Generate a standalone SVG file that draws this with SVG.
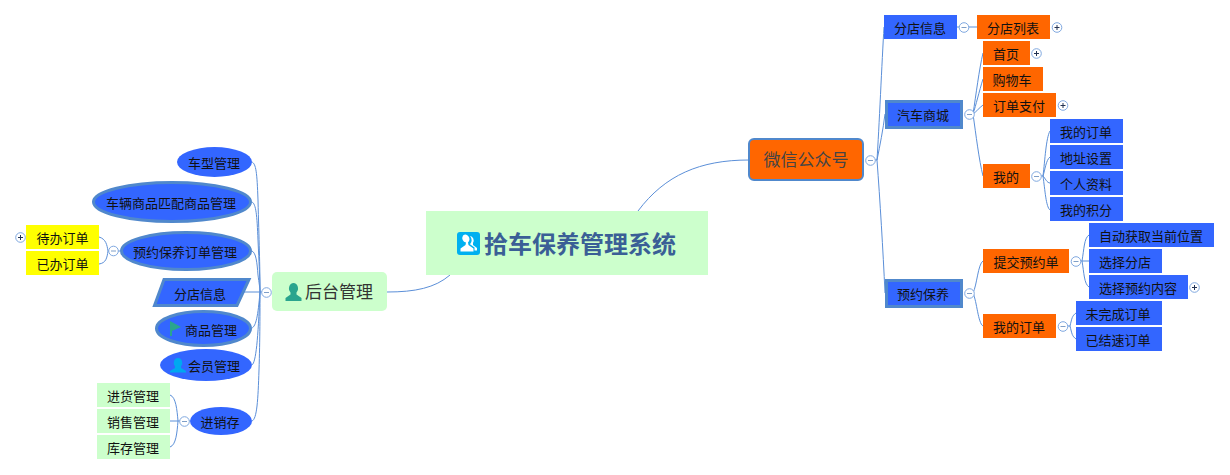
<svg xmlns="http://www.w3.org/2000/svg" width="1230" height="475" viewBox="0 0 1230 475">
<style>
text{font-family:"Noto Sans CJK SC","Liberation Sans",sans-serif;font-size:13px;fill:#111;text-anchor:middle}
.b{fill:#3366ff}.o{fill:#ff6600}.y{fill:#ffff00}.g{fill:#ccffcc}
.s{stroke:#5088cc;stroke-width:3}
.c{fill:none;stroke:#5b8fd8;stroke-width:1}
.t{fill:#fff;stroke:#7fa8e0;stroke-width:1}
.m{fill:none;stroke:#7f9fc8;stroke-width:1}
.p{fill:none;stroke:#223355;stroke-width:1}
</style>
<defs>
<g id="minus"><circle class="t" r="4.800"/><path class="m" d="M-2.500 0H2.500"/></g>
<g id="plus"><circle class="t" r="4.800"/><path class="p" d="M-2.500 0H2.500M0-2.500V2.500"/></g>
</defs>
<g id="connectors">
<path class="c" d="M638 211C665 175 700 160 749 160"/>
<path class="c" d="M387 292C415 292 435 288 450 275"/>
<path class="c" d="M252 162C256 164 257 172 258 200C259 240 260 265 260 292"/>
<path class="c" d="M252 202C256 204 257 215 258 240C259 262 260 280 260 292"/>
<path class="c" d="M252 251C256 253 257 262 258 275C259 283 260 288 260 292"/>
<path class="c" d="M238 292H262"/>
<path class="c" d="M252 328C256 326 258 316 260 292"/>
<path class="c" d="M252 365C256 362 258 340 260 292"/>
<path class="c" d="M252 421C257 419 258 400 259 370C260 340 260 310 260 292"/>
<path class="c" d="M99 237C106 239 107 245 108 251C107 258 106 263 99 264"/>
<path class="c" d="M108 251H120"/>
<path class="c" d="M170 395C176 397 177 410 178 421C177 433 176 445 170 447"/>
<path class="c" d="M170 421H190"/>
<path class="c" d="M875 160H877C879 130 882 60 884 27"/>
<path class="c" d="M877 160C880 145 883 130 885 114"/>
<path class="c" d="M877 160C880 200 883 250 885 293"/>
<path class="c" d="M957 27H977"/>
<path class="c" d="M973 114C976 95 979 70 983 53"/>
<path class="c" d="M973 114C976 105 979 92 983 79"/>
<path class="c" d="M973 114C976 112 979 108 983 105"/>
<path class="c" d="M973 114C976 135 979 160 983 176"/>
<path class="c" d="M1041 176H1043C1045 160 1046 138 1050 131"/>
<path class="c" d="M1043 176C1045 170 1046 160 1050 157"/>
<path class="c" d="M1043 176C1045 178 1047 183 1050 183"/>
<path class="c" d="M1043 176C1045 190 1046 207 1050 210"/>
<path class="c" d="M973 293C977 285 978 264 983 261"/>
<path class="c" d="M973 293C977 302 978 323 983 326"/>
<path class="c" d="M1080 261H1089"/>
<path class="c" d="M1082 261C1084 250 1084 238 1089 235"/>
<path class="c" d="M1082 261C1084 272 1084 284 1089 287"/>
<path class="c" d="M1067 326H1070C1072 318 1072 316 1076 313"/>
<path class="c" d="M1070 326C1072 334 1072 336 1076 339"/>
</g>

<g id="root"><rect class="g" x="426" y="211" width="282" height="64"/>
<rect x="457" y="232" width="23" height="23" rx="3" fill="#00b0f0"/>
<path fill="#fff" d="M463 235.500a4 4.500 0 0 1 5 7l.5 2.500 5 3.500v3h-13v-3l5-3.500 .5-2.500a4 4.500 0 0 1-3-7zM470 236a4 4.500 0 0 1 3 7l0 2 4 3v2.500h-2.500v-3l-4.500-3.200a6 6 0 0 0 0-8.300z"/>
<text x="580" y="253" style="font-size:24px;font-weight:700;fill:#3a5f96">拾车保养管理系统</text></g>

<g id="n-houtai"><rect class="g" x="272" y="272" width="115" height="39" rx="5"/>
<path fill="#2aa58e" d="M293.500 283a4.800 5.500 0 0 1 3 9.500v2l5 3.500v3h-16v-3l5-3.500v-2a4.800 5.500 0 0 1 3-9.500z"/>
<text x="339" y="298" style="font-size:17px;fill:#333">后台管理</text></g>

<g id="n-wechat"><rect x="749" y="139" width="114" height="41" rx="5" class="o" stroke="#5088cc" stroke-width="2"/>
<text x="806" y="166" style="font-size:17px;fill:#444">微信公众号</text></g>

<g id="n-chexing"><ellipse class="b" cx="214.500" cy="162" rx="37.500" ry="15"/><text x="214" y="168">车型管理</text></g>
<g id="n-pipei"><ellipse class="b s" cx="172" cy="202" rx="78.500" ry="19.500"/><text x="171" y="208">车辆商品匹配商品管理</text></g>
<g id="n-yuyue-admin"><ellipse class="b s" cx="186" cy="251" rx="64.500" ry="18.500"/><text x="185" y="257">预约保养订单管理</text></g>
<g id="n-daiban"><rect class="y" x="26" y="225" width="73" height="24"/><text x="62.500" y="243">待办订单</text></g>
<g id="n-yiban"><rect class="y" x="26" y="251" width="73" height="24"/><text x="62.500" y="269">已办订单</text></g>
<g id="n-fendian-admin"><path class="b s" d="M164 279.500H249L237 305.500H154.500Z"/><text x="200" y="299">分店信息</text></g>
<g id="n-shangpin"><ellipse class="b s" cx="203.500" cy="328.500" rx="47" ry="17"/>
<path fill="#2aa58e" d="M170 321L181 327L172 331V336H170Z"/><text x="211" y="335">商品管理</text></g>
<g id="n-huiyuan"><ellipse class="b" cx="206" cy="365" rx="46" ry="16"/>
<path fill="#00a8f0" d="M178 358a4.500 5 0 0 1 3 8.500v1.500l5 3v1.500h-16v-1.500l5-3v-1.500a4.500 5 0 0 1 3-8.500z"/><text x="214" y="371">会员管理</text></g>
<g id="n-jxc"><ellipse class="b" cx="221" cy="421" rx="31" ry="14"/><text x="220" y="427">进销存</text></g>
<g id="n-jinhuo"><rect class="g" x="97" y="383" width="73" height="24"/><text x="133" y="401">进货管理</text></g>
<g id="n-xiaoshou"><rect class="g" x="97" y="409" width="73" height="24"/><text x="133" y="427">销售管理</text></g>
<g id="n-kucun"><rect class="g" x="97" y="435" width="73" height="24"/><text x="133" y="453">库存管理</text></g>

<g id="n-fendian"><rect class="b" x="884" y="15" width="73" height="24"/><text x="920" y="33">分店信息</text></g>
<g id="n-liebiao"><rect class="o" x="977" y="15" width="73" height="24"/><text x="1013" y="33">分店列表</text></g>
<g id="n-mall"><rect class="b s" x="886.500" y="101.500" width="75" height="26"/><text x="923" y="120">汽车商城</text></g>
<g id="n-shouye"><rect class="o" x="983" y="41" width="47" height="24"/><text x="1006" y="59">首页</text></g>
<g id="n-gouwu"><rect class="o" x="983" y="67" width="60" height="24"/><text x="1012" y="85">购物车</text></g>
<g id="n-zhifu"><rect class="o" x="983" y="93" width="73" height="24"/><text x="1019" y="111">订单支付</text></g>
<g id="n-wode"><rect class="o" x="983" y="164" width="47" height="24"/><text x="1006" y="182">我的</text></g>
<g id="n-dingdan"><rect class="b" x="1050" y="119" width="73" height="24"/><text x="1086" y="137">我的订单</text></g>
<g id="n-dizhi"><rect class="b" x="1050" y="145" width="73" height="24"/><text x="1086" y="163">地址设置</text></g>
<g id="n-ziliao"><rect class="b" x="1050" y="171" width="73" height="24"/><text x="1086" y="189">个人资料</text></g>
<g id="n-jifen"><rect class="b" x="1050" y="197" width="73" height="24"/><text x="1086" y="215">我的积分</text></g>
<g id="n-yuyue"><rect class="b s" x="886.500" y="280.500" width="75" height="26"/><text x="923" y="299">预约保养</text></g>
<g id="n-tijiao"><rect class="o" x="983" y="249" width="86" height="24"/><text x="1026" y="267">提交预约单</text></g>
<g id="n-mine2"><rect class="o" x="983" y="314" width="73" height="24"/><text x="1019" y="332">我的订单</text></g>
<g id="n-zidong"><rect class="b" x="1089" y="223" width="125" height="24"/><text x="1151" y="241">自动获取当前位置</text></g>
<g id="n-xuanze"><rect class="b" x="1089" y="249" width="73" height="24"/><text x="1125" y="267">选择分店</text></g>
<g id="n-neirong"><rect class="b" x="1089" y="275" width="99" height="24"/><text x="1138" y="293">选择预约内容</text></g>
<g id="n-weiwan"><rect class="b" x="1076" y="301" width="86" height="24"/><text x="1118" y="319">未完成订单</text></g>
<g id="n-yijie"><rect class="b" x="1076" y="327" width="86" height="24"/><text x="1118" y="345">已结速订单</text></g>

<g id="toggles">
<use href="#minus" x="266.500" y="292.500"/><use href="#minus" x="113.500" y="251"/><use href="#plus" x="20.500" y="237.500"/><use href="#minus" x="184.500" y="421.500"/>
<use href="#minus" x="870.500" y="160.500"/><use href="#minus" x="964" y="27.500"/><use href="#plus" x="1057" y="27.500"/><use href="#minus" x="969.500" y="114.500"/>
<use href="#plus" x="1036.500" y="53.500"/><use href="#plus" x="1063" y="105.500"/><use href="#minus" x="1036.500" y="176.500"/><use href="#minus" x="969.500" y="293.500"/>
<use href="#minus" x="1076" y="261.500"/><use href="#minus" x="1063" y="326.500"/><use href="#plus" x="1194.500" y="287.500"/>
</g>
</svg>
